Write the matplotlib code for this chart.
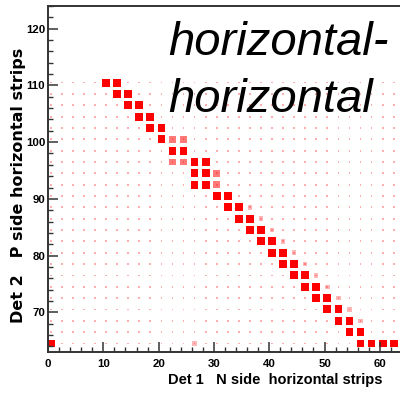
import numpy as np
import matplotlib
matplotlib.use("Agg")
import matplotlib.pyplot as plt
from matplotlib.patches import Rectangle
from matplotlib.collections import PatchCollection

# Strong strip-pair coincidences: N-side strip (x) vs P-side strip (y)
main_x = [10.5, 12.5, 12.5, 14.5, 14.5, 16.5, 16.5, 18.5, 18.5, 20.5,
          20.5, 22.5, 24.5, 26.5, 28.5, 26.5, 28.5, 26.5, 28.5,
          30.5, 32.5, 32.5, 34.5, 34.5, 36.5, 36.5, 38.5, 38.5, 40.5,
          40.5, 42.5, 42.5, 44.5, 44.5, 46.5, 46.5, 48.5, 48.5, 50.5,
          50.5, 52.5, 52.5, 54.5, 54.5, 56.5,
          56.5, 58.5, 60.5, 62.5, 0.65]
main_y = [110.5, 110.5, 108.5, 108.5, 106.5, 106.5, 104.5, 104.5, 102.5, 102.5,
          100.5, 98.5, 98.5, 96.5, 96.5, 94.5, 94.5, 92.5, 92.5,
          90.5, 90.5, 88.5, 88.5, 86.5, 86.5, 84.5, 84.5, 82.5, 82.5,
          80.5, 80.5, 78.5, 78.5, 76.5, 76.5, 74.5, 74.5, 72.5, 72.5,
          70.5, 70.5, 68.5, 68.5, 66.5, 66.5,
          64.5, 64.5, 64.5, 64.5, 64.5]

# Medium coincidences next to the staircase
mid_x = [22.5, 24.5, 22.5, 24.5, 30.5, 30.5]
mid_y = [100.5, 100.5, 96.5, 96.5, 94.5, 92.5]

# Weaker neighbouring-strip coincidences
weak_x = [36.5, 38.5, 40.5, 42.5, 44.5, 46.5, 48.5, 50.5, 52.5, 54.5, 56.5, 26.5]
weak_y = [88.5, 86.5, 84.5, 82.5, 80.5, 78.5, 76.5, 74.5, 72.5, 70.5, 68.5, 64.5]

# Strip centres carrying random background coincidences
n_strips = [0.5 + 2 * k for k in range(32)]
p_strips = [64.5 + 2 * k for k in range(24)]

x_ticks = [0, 10, 20, 30, 40, 50, 60]
y_ticks = [70, 80, 90, 100, 110, 120]

FONT = "Liberation Sans"
W, H = 400, 393
fig = plt.figure(figsize=(W / 100, H / 100), dpi=100)
fig.patch.set_facecolor("white")

ax = fig.add_axes([48 / W, 41 / H, 354 / W, 346 / H])
ax.set_xlim(0, 64)
ax.set_ylim(63, 124)


def boxes(xs, ys, side, **kw):
    rects = [Rectangle((x - side / 2, y - side / 2), side, side) for x, y in zip(xs, ys)]
    ax.add_collection(PatchCollection(rects, **kw))


gx, gy = np.meshgrid(n_strips, p_strips)
boxes(gx.ravel(), gy.ravel(), 0.32, facecolor="#ff4040", edgecolor="none", alpha=0.42)
boxes(weak_x, weak_y, 0.8, facecolor="#ff3030", edgecolor="none", alpha=0.35)
boxes(mid_x, mid_y, 1.2, facecolor="#ff2020", edgecolor="none", alpha=0.6)
boxes(main_x, main_y, 1.4, facecolor="#ff0000", edgecolor="none")

for side in ["left", "top", "bottom"]:
    ax.spines[side].set_color("#333333")
    ax.spines[side].set_linewidth(1.4)
ax.spines["right"].set_visible(False)

ax.set_xticks(x_ticks)
ax.set_yticks(y_ticks)
ax.set_xticks(np.arange(0, 65, 2), minor=True)
ax.set_yticks(np.arange(64, 125, 2), minor=True)
ax.tick_params(which="major", direction="in", length=7, width=1.1, color="#333333")
ax.tick_params(which="minor", direction="in", length=3.5, width=1.0, color="#333333")
ax.tick_params(axis="x", pad=5)
ax.tick_params(axis="y", pad=2)
for lab in ax.get_xticklabels() + ax.get_yticklabels():
    lab.set_fontfamily(FONT)
    lab.set_fontweight("bold")
    lab.set_fontsize(8.2)

fig.text(382 / W, 1 - 380 / H, "Det 1   N side  horizontal strips",
         ha="right", va="center", fontsize=10.5, fontweight="bold", family=FONT)
fig.text(26.5 / W, 1 - 48 / H, "Det 2   P side horizontal strips",
         ha="right", va="top", rotation=90, fontsize=11.5, fontweight="bold",
         family="DejaVu Sans")

fig.text(168 / W, 1 - 55 / H, "horizontal-", ha="left", va="baseline",
         fontsize=34, fontstyle="italic", family=FONT)
fig.text(168 / W, 1 - 112 / H, "horizontal", ha="left", va="baseline",
         fontsize=34, fontstyle="italic", family=FONT)

fig.savefig("out.png", dpi=100)
